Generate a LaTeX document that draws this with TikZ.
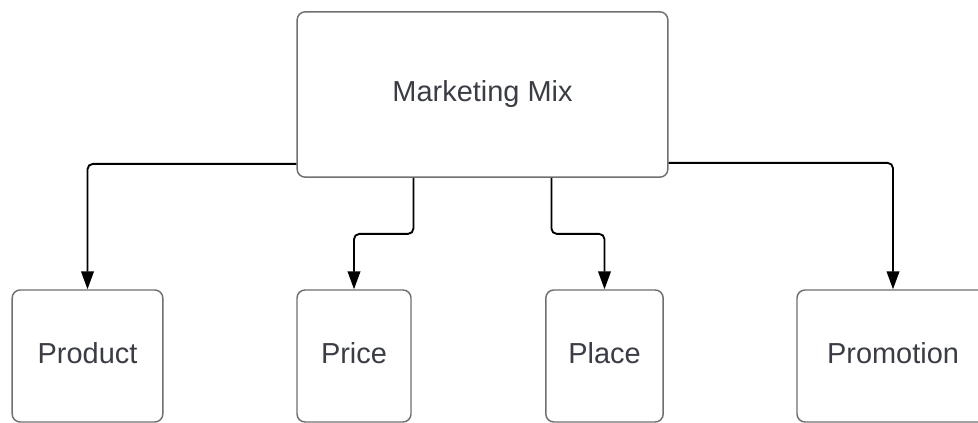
\documentclass[tikz,border=0pt]{standalone}
\usepackage{fontspec}
\setmainfont{Liberation Sans}
\usetikzlibrary{arrows.meta,calc}
\definecolor{boxgray}{HTML}{707070}
\definecolor{textgray}{HTML}{3A3D45}
\begin{document}
\begin{tikzpicture}[x=0.75pt,y=-0.75pt,
  box/.style={draw=boxgray, line width=1.1pt, rounded corners=6pt, text=textgray,
    font=\fontsize{21.7}{26}\selectfont, inner sep=0pt},
  leaf/.style={box, minimum height=99pt, text depth=4.5pt},
  conn/.style={draw=black, line width=1.4pt, rounded corners=4pt,
    -{Triangle[length=13.5pt,width=9.5pt]}}]
\useasboundingbox (0,0) rectangle (978,423);
\fill[white] (0,0) rectangle (978,423);
\clip (0,0) rectangle (978,423);
\node[box, minimum width=278pt, minimum height=124pt] (top) at (482.5,94.5) {Marketing Mix};
\node[leaf, minimum width=113pt] (prod) at (87.5,356) {Product};
\node[leaf, minimum width=85.5pt] (price) at (354,356) {Price};
\node[leaf, minimum width=88pt] (place) at (604.5,356) {Place};
\node[leaf, minimum width=144pt] (promo) at (893,356) {Promotion};
\draw[conn] ($(top.south west)+(0,-14)$) -| (prod.north);
\draw[conn] ($(top.south west)+(117,0)$) -- ++(0,56) -| (price.north);
\draw[conn] ($(top.south west)+(255,0)$) -- ++(0,56) -| (place.north);
\draw[conn] ($(top.south east)+(0,-15)$) -| (promo.north);
\end{tikzpicture}
\end{document}
